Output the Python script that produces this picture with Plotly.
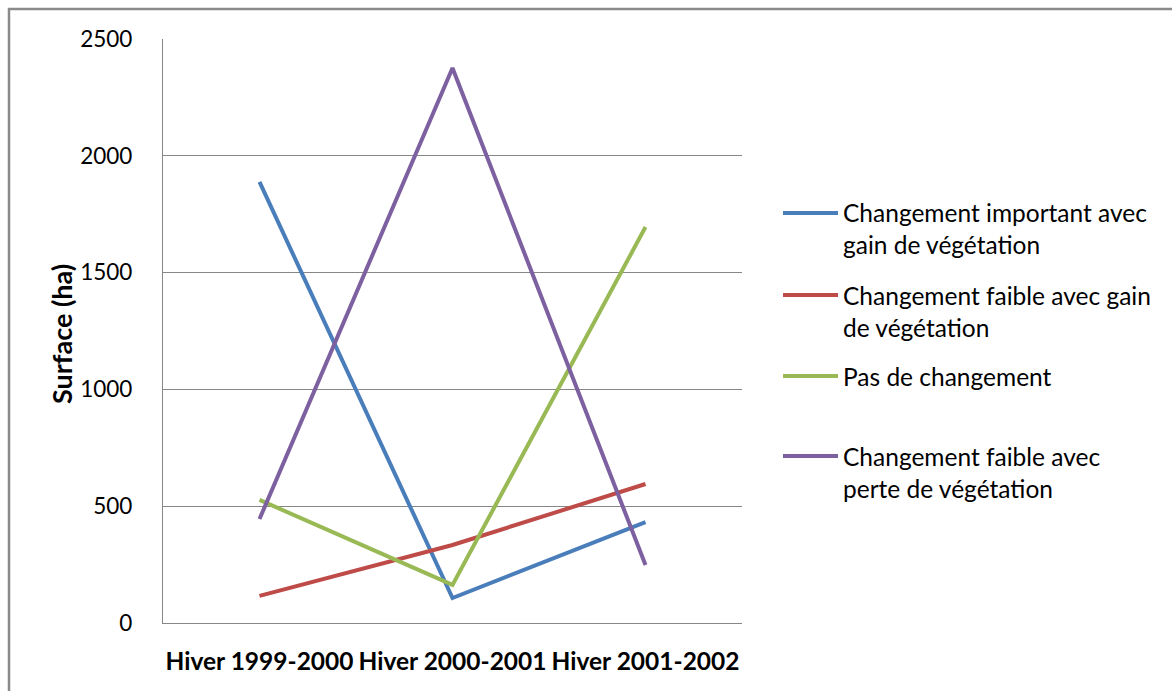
import plotly.graph_objects as go

# Winter periods on the category axis
periods = ["Hiver 1999-2000", "Hiver 2000-2001", "Hiver 2001-2002"]

# Surface (ha) for each change class
important_gain = [1888, 107, 432]
faible_gain = [116, 334, 595]
pas_changement = [527, 163, 1695]
faible_perte = [445, 2376, 248]

series_names = [
    ["Changement important avec", "gain de végétation"],
    ["Changement faible avec gain", "de végétation"],
    ["Pas de changement"],
    ["Changement faible avec", "perte de végétation"],
]
series_values = [important_gain, faible_gain, pas_changement, faible_perte]
colors = ["#4A7EBB", "#BE4B48", "#98B954", "#7D60A0"]

y_ticks = [0, 500, 1000, 1500, 2000, 2500]
y_title = "Surface (ha)"

FONT = "Lato"
W, H = 1172, 691
ML, MR, MT, MB = 163, 430, 39, 68
PW, PH = W - ML - MR, H - MT - MB

fig = go.Figure()
for name, vals, col in zip(series_names, series_values, colors):
    fig.add_trace(go.Scatter(
        x=periods, y=vals, mode="lines", name=" ".join(name),
        line=dict(color=col, width=4), showlegend=False,
    ))


def px_x(x):
    return (x - ML) / PW


def px_y(y):
    return (H - MB - y) / PH


shapes = []
annotations = []

# Outer chart border
shapes.append(dict(type="rect", xref="paper", yref="paper",
                   x0=px_x(9), x1=px_x(1190), y0=px_y(9), y1=px_y(710),
                   line=dict(color="#8a8a8a", width=2.5), layer="below"))

# Vertical axis title
annotations.append(dict(
    text="<b>" + y_title + "</b>", xref="paper", yref="paper",
    x=px_x(61), y=px_y(334), xanchor="center", yanchor="middle",
    textangle=-90, showarrow=False,
    font=dict(family=FONT, size=27, color="#000000"),
))

# Hand-built legend: line sample and text lines per series
legend_y = [213, 295, 376, 456]
for name, col, ly in zip(series_names, colors, legend_y):
    shapes.append(dict(type="line", xref="paper", yref="paper",
                       x0=px_x(783), x1=px_x(838), y0=px_y(ly), y1=px_y(ly),
                       line=dict(color=col, width=4)))
    for i, line in enumerate(name):
        annotations.append(dict(
            text=line, xref="paper", yref="paper",
            x=px_x(841), y=px_y(ly + 32 * i), xanchor="left", yanchor="middle",
            showarrow=False, font=dict(family=FONT, size=24.5, color="#000000"),
        ))

fig.update_layout(
    width=W, height=H,
    margin=dict(l=ML, r=MR, t=MT, b=MB, pad=0, autoexpand=False),
    paper_bgcolor="white", plot_bgcolor="white",
    font=dict(family=FONT, size=22.5, color="#000000"),
    shapes=shapes, annotations=annotations,
    xaxis=dict(
        type="category", range=[-0.5, 2.5],
        showgrid=False, showline=True, linecolor="#878787", linewidth=1.3,
        ticks="", ticklabelstandoff=16, tickangle=0, automargin=False,
        tickfont=dict(family=FONT, size=24.5, color="#000000", weight="bold"),
        zeroline=False, fixedrange=True,
    ),
    yaxis=dict(
        range=[0, 2500], tickvals=y_ticks, automargin=False,
        showgrid=True, gridcolor="#878787", gridwidth=1.3,
        showline=True, linecolor="#878787", linewidth=1.3,
        ticks="", ticklabelstandoff=25,
        tickfont=dict(family=FONT, size=22.5, color="#000000"),
        zeroline=False, fixedrange=True,
    ),
)

fig.write_html("out.html")
